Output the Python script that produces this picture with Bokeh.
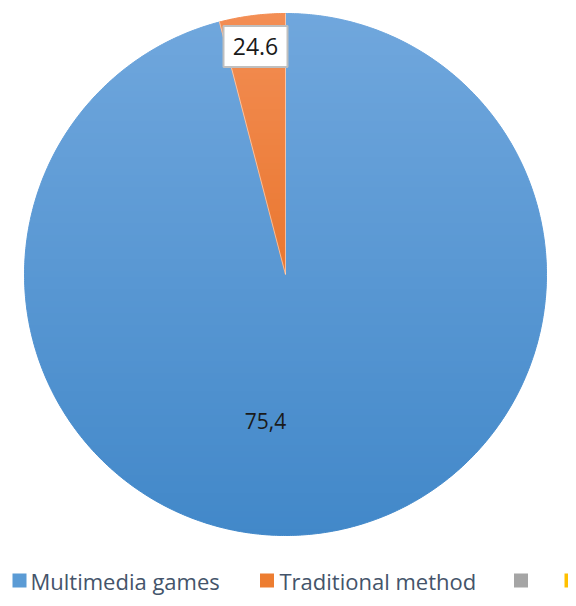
import numpy as np
from bokeh.plotting import figure
from bokeh.models import Range1d, ColumnDataSource
from bokeh.core.properties import value
from bokeh.embed import file_html
from bokeh.resources import INLINE

# ---- data ----
categories = ["Multimedia games", "Traditional method", "", ""]
slice_values = [75.4, 3.2]          # drawn share of each slice
slice_labels = ["75,4", "24.6"]     # data labels as printed on the chart
colors = ["#5b9bd5", "#ed7d31", "#a5a5a5", "#ffc000"]
grad_top = [(112, 167, 221), (243, 142, 84)]
grad_bottom = [(66, 136, 201), (224, 96, 12)]

W, H = 568, 598
p = figure(width=W, height=H, output_backend="svg", toolbar_location=None,
           x_range=Range1d(0, W), y_range=Range1d(0, H), min_border=0)
p.axis.visible = False
p.grid.visible = False
p.outline_line_color = None
p.background_fill_color = "white"
p.border_fill_color = "white"

cx, cy, r = 285, 324, 261

vals = np.array(slice_values, dtype=float)
frac = vals / vals.sum()
cum = np.concatenate([[0], np.cumsum(frac)])
start_cw = np.pi / 2 - 2 * np.pi * cum[:-1]
end_cw = np.pi / 2 - 2 * np.pi * cum[1:]
src = ColumnDataSource(dict(
    x=[cx] * len(vals), y=[cy] * len(vals),
    start=end_cw, end=start_cw,
    color=colors[:len(vals)], name=categories[:len(vals)],
))
p.wedge(x="x", y="y", radius=r, start_angle="start", end_angle="end",
        fill_color="color", line_color="white", line_width=0.7, source=src)


# vertical gradient shading of each slice (bands of the same wedges)
def clip(poly, yv, keep_above):
    out = []
    n = len(poly)
    for i in range(n):
        a, b = poly[i], poly[(i + 1) % n]
        ina = a[1] >= yv if keep_above else a[1] <= yv
        inb = b[1] >= yv if keep_above else b[1] <= yv
        if ina:
            out.append(a)
        if ina != inb:
            t = (yv - a[1]) / (b[1] - a[1])
            out.append((a[0] + t * (b[0] - a[0]), yv))
    return out


def hexc(c):
    return "#%02x%02x%02x" % tuple(int(round(v)) for v in c)


edges = np.linspace(cy + r, cy - r, 88)
for i in range(len(vals)):
    a0, a1 = end_cw[i], start_cw[i]
    n = max(8, int(abs(a1 - a0) / (2 * np.pi) * 720))
    th = np.linspace(a0, a1, n)
    poly = [(cx, cy)] + [(cx + r * np.cos(t), cy + r * np.sin(t)) for t in th]
    xs, ys, cs = [], [], []
    for k in range(len(edges) - 1):
        y_hi, y_lo = edges[k], edges[k + 1]
        q = clip(clip(poly, y_hi, False), y_lo, True)
        if len(q) < 3:
            continue
        tt = (cy + r - 0.5 * (y_hi + y_lo)) / (2 * r)
        c = [grad_top[i][j] + tt * (grad_bottom[i][j] - grad_top[i][j]) for j in range(3)]
        xs.append([pt[0] for pt in q])
        ys.append([pt[1] for pt in q])
        cs.append(hexc(c))
    p.patches(xs=xs, ys=ys, fill_color=cs, line_color=cs, line_width=1)

# light separator between slices
bx = [cx + r * np.cos(a) for a in start_cw]
by = [cy + r * np.sin(a) for a in start_cw]
p.segment(x0=[cx] * len(bx), y0=[cy] * len(by), x1=bx, y1=by,
          line_color="white", line_alpha=0.5, line_width=1)

# data labels
p.text(x=[265], y=[178], text=[slice_labels[0]], text_font=value("Open Sans"),
       text_font_size="21px", text_align="center", text_baseline="middle",
       text_color="#1a1a1a")
p.rect(x=[255], y=[552], width=64, height=41, fill_color="white",
       line_color="#bfbfbf", line_width=2)
p.text(x=[255], y=[552], text=[slice_labels[1]], text_font=value("Open Sans"),
       text_font_size="23px", text_align="center", text_baseline="middle",
       text_color="#1a1a1a")

# legend
leg_sq_x = [19, 266.5, 520.5, 571]
leg_tx_x = [30, 279]
for i in range(4):
    p.rect(x=[leg_sq_x[i]], y=[18], width=14, height=14,
           fill_color=colors[i], line_color=None)
for i in range(2):
    p.text(x=[leg_tx_x[i]], y=[18], text=[categories[i]], text_font=value("Open Sans"),
           text_font_size="22px", text_align="left", text_baseline="middle",
           text_color="#44546a")

open("out.html", "w").write(file_html(p, INLINE))
